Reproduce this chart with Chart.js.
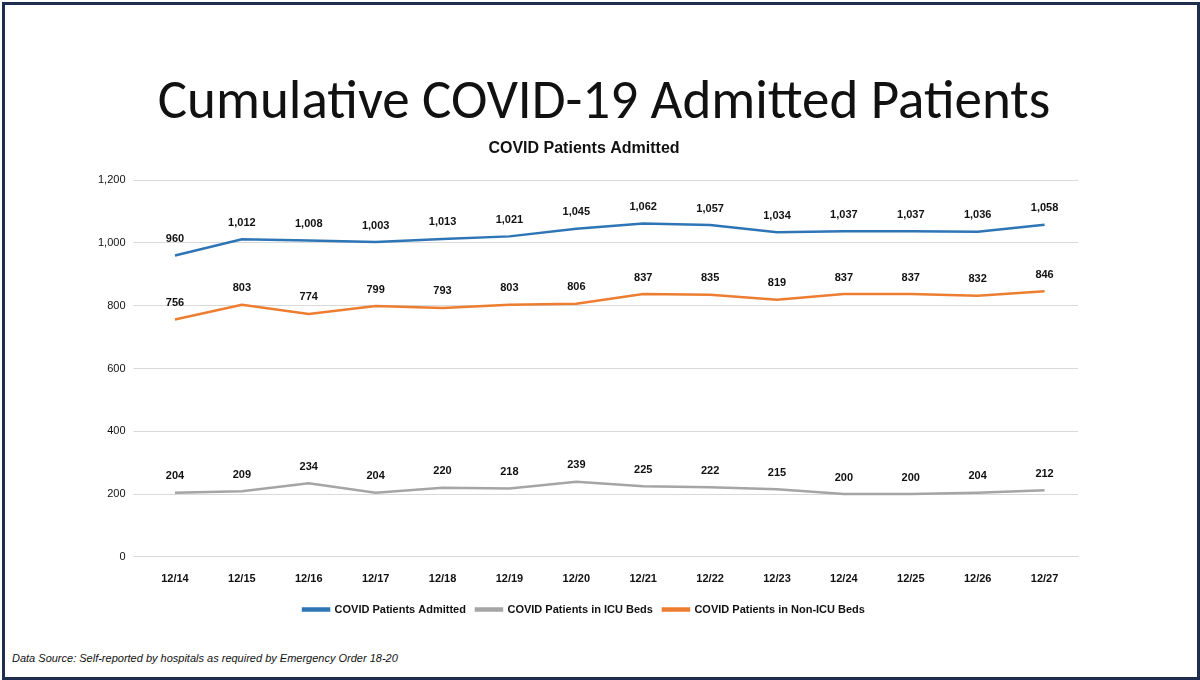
<!DOCTYPE html>
<html><head><meta charset="utf-8">
<script src="https://cdn.jsdelivr.net/npm/chart.js@4"></script>
<style>
html,body{margin:0;padding:0;background:#fff;}
#frame{position:absolute;left:2px;top:2px;width:1192px;height:672px;border:3px solid #1f2d4e;}
#big{position:absolute;left:0;width:1200px;top:70px;text-align:center;font-family:Carlito,"Open Sans",sans-serif;font-weight:300;font-size:55px;line-height:60px;color:#111;padding-left:8px;box-sizing:border-box;}
#src{position:absolute;left:12px;top:652px;font-family:"Liberation Sans",sans-serif;font-style:italic;font-size:11px;color:#111;}
#wrap{position:absolute;left:0;top:135px;width:1200px;height:490px;}
</style></head><body>
<div id="frame"></div>
<div id="big">Cumulative COVID-19 Admitted Patients</div>
<div id="wrap"><canvas id="c"></canvas></div>
<div id="src">Data Source: Self-reported by hospitals as required by Emergency Order 18-20</div>
<script>
// données
const dates = ['12/14','12/15','12/16','12/17','12/18','12/19','12/20','12/21','12/22','12/23','12/24','12/25','12/26','12/27'];
const admitted = [960,1012,1008,1003,1013,1021,1045,1062,1057,1034,1037,1037,1036,1058];
const icu = [204,209,234,204,220,218,239,225,222,215,200,200,204,212];
const nonIcu = [756,803,774,799,793,803,806,837,835,819,837,837,832,846];

const labelsPlugin = {
    id:'ptLabels',
    afterDatasetsDraw(chart){
        const ctx=chart.ctx;
        ctx.save();
        ctx.font='bold 11px "Liberation Sans", sans-serif';
        ctx.fillStyle='#111'; ctx.textAlign='center'; ctx.textBaseline='bottom';
        chart.data.datasets.forEach((ds,i)=>{
            chart.getDatasetMeta(i).data.forEach((p,j)=>{
                ctx.fillText(ds.data[j].toLocaleString('en-US'), p.x, p.y-11);
            });
        });
        ctx.restore();
    }
};

new Chart(document.getElementById('c'),{
    type:'line',
    data:{labels:dates,datasets:[
        {label:'COVID Patients Admitted',data:admitted,borderColor:'#2e75b6',backgroundColor:'#2e75b6',borderWidth:2.5,pointRadius:0},
        {label:'COVID Patients in ICU Beds',data:icu,borderColor:'#a5a5a5',backgroundColor:'#a5a5a5',borderWidth:2.5,pointRadius:0},
        {label:'COVID Patients in Non-ICU Beds',data:nonIcu,borderColor:'#ed7d31',backgroundColor:'#ed7d31',borderWidth:2.5,pointRadius:0}
    ]},
    options:{
        responsive:true, maintainAspectRatio:false, animation:false,
        layout:{padding:{left:90,right:122,top:0,bottom:0}},
        plugins:{
            title:{display:true,text:'COVID Patients Admitted',color:'#111',font:{family:'"Liberation Sans", sans-serif',size:16,weight:'bold'},padding:{top:4,bottom:22}},
            legend:{position:'bottom',labels:{boxWidth:26,boxHeight:2,color:'#111',padding:10,font:{family:'"Liberation Sans", sans-serif',size:11,weight:'bold'}}},
            tooltip:{enabled:false}
        },
        scales:{
            x:{offset:true,grid:{display:false},border:{color:'#d9d9d9'},ticks:{color:'#111',padding:8,font:{family:'"Liberation Sans", sans-serif',size:11,weight:'bold'}}},
            y:{min:0,max:1200,ticks:{stepSize:200,color:'#111',padding:8,font:{family:'"Liberation Sans", sans-serif',size:11},callback:v=>v.toLocaleString('en-US')},grid:{color:'#d9d9d9'},border:{display:false}}
        }
    },
    plugins:[labelsPlugin]
});
</script>
</body></html>
